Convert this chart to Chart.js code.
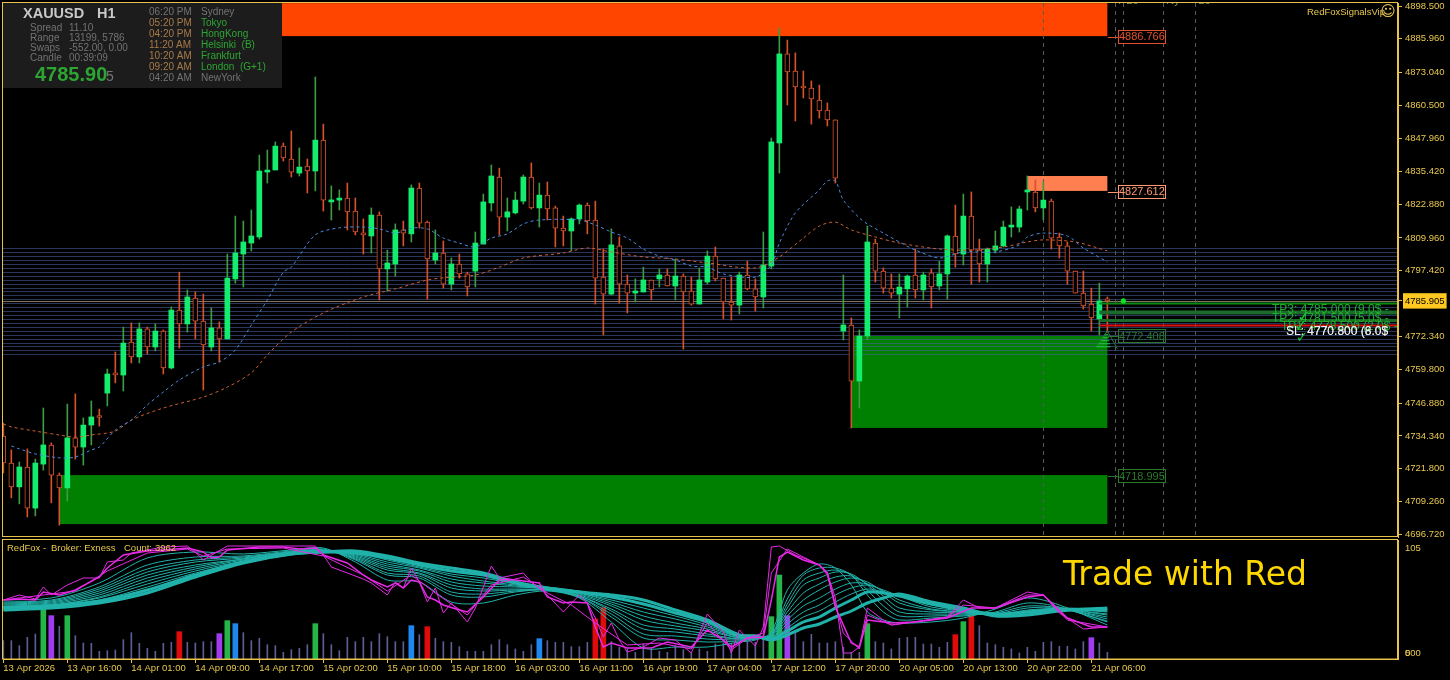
<!DOCTYPE html>
<html lang="en">
<head>
<meta charset="UTF-8">
<title>XAUUSD H1</title>
<script src="https://cdn.jsdelivr.net/npm/chart.js"></script>
<style>
    html, body { margin: 0; padding: 0; background: #000; overflow: hidden; }
    canvas { position: absolute; left: 0; }
    #mainChart { top: 0; }
    #subChart { top: 538px; }
</style>
</head>
<body>
<canvas id="mainChart" width="1450" height="538"></canvas>
<canvas id="subChart" width="1450" height="142"></canvas>

<script>
// candles, one entry per H1 bar
const opens = [
4734.3,4724.0,4714.9,4722.5,4706.8,4723.6,4730.9,4719.4,4714.5,4733.6,
4730.1,4738.5,4741.6,4750.7,4758.4,4757.6,4770.2,4764.5,4775.2,4768.3,
4774.4,4760.3,4782.4,4777.1,4787.0,4778.2,4768.3,4775.6,4771.4,4794.3,
4803.8,4808.0,4810.3,4835.1,4835.9,4845.0,4840.1,4834.7,4837.4,4835.5,
4847.3,4823.7,4824.4,4825.2,4820.2,4811.8,4810.7,4818.7,4798.1,4800.0,
4813.0,4811.5,4829.0,4816.0,4801.5,4804.2,4792.3,4800.0,4796.2,4797.3,
4807.6,4823.3,4833.2,4817.9,4819.5,4824.0,4833.2,4821.4,4826.3,4821.4,
4813.7,4812.6,4817.2,4822.5,4816.8,4795.0,4788.5,4806.9,4792.3,4788.9,
4789.3,4793.9,4794.3,4795.8,4791.6,4795.4,4789.7,4784.7,4793.1,4803.0,
4794.6,4785.5,4784.3,4795.8,4790.5,4787.4,4799.2,4846.2,4880.2,4873.7,
4867.6,4867.2,4862.6,4858.8,4855.0,4774.4,4776.7,4755.3,4772.5,4808.0,
4797.3,4790.8,4788.5,4790.5,4795.8,4790.1,4796.6,4791.6,4796.2,4810.7,
4803.8,4818.3,4805.3,4800.0,4805.3,4806.9,4814.1,4814.1,4827.5,4827.5,
4821.4,4824.0,4810.3,4806.9,4797.3,4788.9,4784.7,4779.0,4786.3];
const highs = [
4739.3,4729.0,4724.4,4729.4,4725.5,4745.0,4731.7,4720.2,4746.5,4750.4,
4741.2,4747.7,4744.6,4759.9,4766.4,4775.9,4777.5,4777.5,4775.9,4777.1,
4774.8,4783.6,4796.9,4790.1,4789.3,4788.5,4783.2,4777.9,4803.8,4818.3,
4816.4,4820.6,4841.6,4843.5,4846.6,4846.2,4850.8,4844.3,4840.1,4871.4,
4853.4,4829.8,4828.3,4830.9,4825.2,4817.2,4821.4,4819.9,4805.3,4815.3,
4816.4,4830.2,4830.9,4816.4,4813.0,4808.8,4802.3,4803.8,4796.9,4812.2,
4826.7,4837.8,4836.6,4825.2,4827.5,4834.0,4838.6,4830.9,4831.3,4822.1,
4818.3,4817.6,4822.9,4823.3,4824.0,4805.7,4813.4,4810.3,4795.8,4794.3,
4798.8,4793.9,4798.1,4798.1,4801.9,4796.2,4795.0,4798.5,4805.0,4806.5,
4794.6,4795.0,4796.9,4801.1,4794.3,4812.2,4848.1,4890.1,4885.5,4880.6,
4873.7,4869.9,4868.3,4861.5,4855.0,4795.8,4779.4,4774.8,4814.5,4809.5,
4798.5,4796.2,4796.2,4795.8,4805.7,4796.9,4798.1,4801.1,4811.1,4822.5,
4826.7,4827.5,4809.5,4806.1,4812.6,4816.4,4821.8,4822.1,4833.6,4832.1,
4831.3,4824.8,4811.8,4808.4,4797.3,4797.3,4790.8,4792.7,4787.4];
const lows = [
4720.2,4710.7,4708.4,4703.4,4703.8,4721.3,4708.8,4700.3,4709.5,4725.5,
4723.2,4730.9,4738.1,4745.8,4754.6,4751.5,4762.2,4762.2,4765.6,4766.8,
4758.0,4759.9,4767.9,4774.0,4771.4,4751.9,4766.8,4762.6,4771.4,4792.7,
4791.2,4805.0,4809.5,4830.9,4835.9,4839.3,4833.2,4833.6,4827.1,4827.9,
4820.2,4816.8,4820.6,4813.0,4811.1,4803.8,4804.2,4786.3,4789.7,4795.4,
4806.9,4808.4,4813.7,4786.6,4800.0,4790.8,4790.1,4794.6,4787.8,4791.2,
4807.6,4820.2,4811.1,4812.6,4819.1,4822.9,4821.0,4814.1,4816.8,4806.5,
4806.9,4805.0,4815.3,4811.5,4784.7,4772.9,4788.2,4785.1,4781.3,4785.5,
4789.3,4786.3,4791.2,4791.6,4786.3,4767.5,4784.3,4784.7,4792.3,4793.5,
4779.0,4778.6,4780.9,4790.1,4782.0,4783.2,4798.1,4834.7,4860.7,4854.6,
4863.4,4853.4,4855.7,4852.7,4830.9,4771.0,4737.4,4745.0,4771.0,4793.1,
4788.9,4787.0,4779.4,4783.6,4787.0,4786.3,4783.2,4790.1,4786.6,4798.8,
4799.6,4792.3,4793.1,4793.1,4804.2,4806.5,4810.3,4812.2,4820.6,4819.9,
4816.8,4805.7,4802.3,4792.3,4788.9,4782.8,4774.4,4772.9,4774.0];
const closes = [
4724.0,4714.9,4722.5,4706.8,4724.0,4730.9,4719.4,4714.5,4733.6,4730.1,
4738.5,4741.6,4741.4,4758.0,4757.6,4769.8,4764.5,4775.2,4768.3,4774.4,
4760.3,4782.4,4777.1,4787.4,4778.2,4769.1,4775.6,4771.4,4794.6,4804.2,
4808.4,4810.7,4835.5,4835.5,4845.0,4840.5,4835.1,4837.0,4835.5,4847.3,
4824.4,4824.4,4824.8,4819.9,4812.2,4811.1,4818.7,4798.1,4800.4,4813.0,
4811.8,4829.0,4815.6,4801.9,4804.2,4792.3,4800.0,4796.2,4791.2,4808.0,
4823.7,4833.6,4817.9,4819.9,4824.4,4833.2,4821.4,4826.3,4821.0,4813.7,
4812.6,4817.2,4822.5,4816.4,4794.6,4788.5,4807.3,4792.3,4788.9,4789.7,
4793.9,4790.1,4795.8,4791.6,4795.4,4789.3,4784.7,4793.9,4803.0,4794.3,
4785.5,4784.3,4795.8,4790.5,4787.4,4799.6,4846.6,4880.2,4873.3,4867.6,
4867.2,4863.0,4858.4,4855.0,4832.8,4776.7,4755.3,4772.5,4808.4,4797.3,
4790.8,4788.9,4791.2,4795.4,4790.1,4795.8,4791.2,4796.2,4810.7,4803.8,
4818.3,4805.3,4800.0,4805.7,4806.9,4814.1,4814.5,4821.0,4827.9,4821.4,
4824.4,4809.9,4806.9,4797.3,4788.9,4784.0,4779.4,4785.9,4785.9];

// moving averages
const blueMaBars = [1,2,4,7,9,11,12,14,16,18,20,22,25,27,29,31,33,35,36,39,42,45,47,49,51,53,55,57,59,61,63,65,67,72,74,76,78,80,82,84,86,88,90,94,96,97,99,102,103,104,105,107,108,110,112,114,117,120,124,127,128,130,133,135,138];
const blueMa = [4730.5,4729.4,4727.5,4726.0,4726.3,4729.0,4730.1,4736.6,4740.4,4746.2,4751.1,4755.7,4760.7,4762.6,4767.2,4776.7,4786.3,4796.9,4798.8,4811.1,4813.8,4814.1,4813.4,4811.8,4813.7,4813.4,4809.9,4808.0,4806.5,4809.9,4811.5,4815.3,4816.8,4816.8,4814.9,4812.2,4809.9,4805.7,4803.0,4801.5,4799.2,4798.8,4796.2,4795.0,4799.6,4808.0,4819.5,4828.3,4831.7,4831.7,4824.4,4817.6,4815.3,4811.8,4808.4,4805.3,4802.3,4804.6,4804.6,4807.3,4810.3,4811.8,4810.7,4806.1,4800.8];
const brownMaBars = [0,1,4,7,9,11,14,16,20,25,28,31,33,36,40,45,49,53,55,59,62,65,70,73,76,80,84,88,94,97,100,102,104,106,109,112,117,121,125,128,130,134,138];
const brownMa = [4738.9,4737.8,4736.2,4734.7,4733.9,4734.7,4736.2,4740.4,4745.0,4749.2,4753.0,4758.4,4765.3,4774.0,4781.3,4787.4,4790.5,4793.9,4794.7,4795.8,4798.8,4802.3,4804.2,4806.1,4804.6,4802.7,4801.9,4800.4,4798.5,4802.7,4809.9,4814.5,4816.0,4813.0,4810.3,4808.0,4805.7,4805.3,4806.5,4808.4,4809.2,4808.4,4805.0];

// supply and demand zones: first bar, last bar, top price, bottom price
const orangeZone = [34, 138, 4899.6, 4887.0];
const coralZone = [128, 138, 4833.6, 4827.9];
const greenZoneLow = [7, 138, 4719.4, 4700.7];
const greenZoneHigh = [106, 138, 4772.5, 4737.4];
const zoneLabels = ['4886.766', '4827.612', '4772.408', '4718.995'];
const zoneLabelPrices = [4886.766, 4827.612, 4772.408, 4718.995];

const gridPrices = [4806,4804.5,4803,4801.5,4800,4798.5,4797,4795.5,4794,4792.5,4791,4789.5,4788,4786.5,4785,4783.5,4782,4780.5,4779,4777.5,4776,4774.5,4773,4771.5,4770,4768.5,4767,4765.5];
const sessionBars = [130, 139, 140, 145, 149];
const tpLevels = [4785.0, 4781.5, 4778.5];
const stopLevel = 4776.7;
const lastPrice = 4785.905;
const priceTicks = [4898.5,4885.96,4873.04,4860.5,4847.96,4835.42,4822.88,4809.96,4797.42,4785.905,4772.34,4759.8,4746.88,4734.34,4721.8,4709.26,4696.72];

const timeLabels = ['13 Apr 2026','13 Apr 16:00','14 Apr 01:00','14 Apr 09:00','14 Apr 17:00','15 Apr 02:00','15 Apr 10:00','15 Apr 18:00','16 Apr 03:00','16 Apr 11:00','16 Apr 19:00','17 Apr 04:00','17 Apr 12:00','17 Apr 20:00','20 Apr 05:00','20 Apr 13:00','20 Apr 22:00','21 Apr 06:00'];
const timeTickBars = [0,8,16,24,32,40,48,56,64,72,80,88,96,104,112,120,128,136];

// lower window: volume
const volumes = [55,55,40,65,75,155,130,98,130,70,48,47,23,25,27,58,79,47,32,23,47,50,82,50,48,52,52,76,115,106,79,55,62,43,40,20,28,32,43,106,76,43,25,65,52,65,52,76,67,52,52,100,73,97,62,52,50,37,23,23,23,43,58,43,30,23,43,61,55,50,50,37,37,50,120,154,52,35,30,20,45,30,23,20,40,28,18,30,23,45,48,48,45,52,50,70,127,252,130,78,52,74,48,48,52,35,20,20,106,52,48,30,62,65,65,45,45,35,50,73,112,130,100,48,43,35,30,18,35,23,50,52,38,38,30,52,64,48,20];
const greenVolBars = [5,8,28,39,96,97,108,120];
const purpleVolBars = [6,27,98,136];
const blueVolBars = [29,51,67];
const redVolBars = [22,53,74,75,119,121];

// lower window: ribbon, slowest line first
const ribbonBars = [0,6,12,18,24,30,36,40,44,48,52,56,60,64,68,72,76,80,84,88,92,94,96,98,100,102,104,106,108,110,112,116,120,124,128,132,138];
const ribbon0 = [43,45,50,60,76,90,99,101,102,97,90,85,80,71,65,61,58,53,43,33,18,17,13,18,25,29,36,42,50,55,59,51,45,37,38,42,45];
const ribbon1 = [45,47,52,63,78,91,99,101,100,95,88,82,78,70,65,61,56,49,40,31,17,17,14,22,31,36,45,53,61,60,57,49,43,39,41,44,43];
const ribbon2 = [46,48,53,66,80,91,99,101,100,93,86,79,75,69,64,60,53,45,37,28,16,16,14,25,36,42,51,59,64,61,57,48,43,37,39,43,42];
const ribbon3 = [46,48,55,69,82,92,100,102,99,91,85,77,72,68,64,60,51,41,34,26,16,16,15,29,41,48,58,65,68,63,57,46,42,38,40,44,41];
const ribbon4 = [46,48,56,72,84,93,100,102,98,89,83,74,70,67,64,59,49,37,30,24,15,15,15,33,47,55,64,70,69,62,53,44,41,38,41,44,39];
const ribbon5 = [47,49,58,75,86,94,101,103,97,87,82,71,67,66,64,58,47,33,27,22,15,15,16,37,53,63,71,75,71,61,50,43,41,38,42,44,38];
const ribbon6 = [48,50,60,78,88,94,101,103,96,85,80,68,64,64,63,57,44,28,24,19,14,15,17,41,60,69,76,77,69,57,45,41,40,38,43,44,36];
const ribbon7 = [49,51,62,81,91,95,101,103,95,83,79,65,62,63,63,57,42,24,21,17,14,15,18,45,68,75,81,79,68,53,41,39,39,39,45,45,34];
const ribbon8 = [50,52,64,84,93,96,101,103,94,80,77,61,59,62,63,56,39,19,17,14,13,14,18,49,73,80,83,78,63,47,37,37,38,40,47,45,32];
const ribbon9 = [51,53,66,88,96,97,102,104,93,78,75,58,56,61,63,56,36,15,13,11,12,14,19,54,78,85,85,78,58,41,33,35,37,41,50,46,31];
const ribbon10 = [53,55,70,95,101,99,103,105,91,73,71,51,50,58,62,55,31,5,6,6,11,13,21,63,80,89,85,68,41,33,30,31,35,44,55,48,28];

// lower window: magenta lines
const magentaOuterBars = [0,2,4,5,6,8,10,12,13,15,16,18,20,23,24,25,28,35,39,40,41,45,46,48,49,50,51,52,53,54,55,56,58,59,61,62,65,66,68,70,72,73,74,75,76,77,78,80,82,84,86,88,90,91,92,93,94,95,96,97,99,100,102,103,104,105,106,107,108,110,111,114,118,120,122,124,128,130,132,135,138];
const magentaOuter = [53,58,54,66,58,68,75,75,91,93,100,103,106,107,101,93,107,107,107,98,86,74,70,58,71,65,85,71,51,65,40,50,31,45,87,75,80,71,58,41,58,50,35,16,30,13,1,6,15,13,0,39,21,0,23,15,7,26,106,107,98,95,88,80,55,0,0,6,45,33,28,31,36,53,45,45,61,58,40,24,26];
const magentaInnerBars = [0,2,4,5,7,9,12,13,15,18,20,23,25,26,27,28,32,35,37,39,40,43,45,46,48,49,50,51,52,53,54,55,57,58,60,62,63,65,67,68,70,71,73,74,75,76,78,81,83,86,88,90,91,93,95,96,97,98,100,102,103,104,106,107,108,111,114,118,121,124,128,130,133,136,138];
const magentaInner = [53,54,53,61,58,63,76,85,98,102,103,105,101,95,96,103,106,106,104,105,98,90,78,73,66,70,65,73,71,56,53,48,43,41,56,73,74,72,70,56,50,51,50,26,6,10,5,5,11,6,23,13,6,15,16,53,96,101,93,88,80,46,10,6,33,30,31,35,45,45,56,58,35,26,26];
const magentaMidBars = [0,5,9,13,18,23,25,28,35,40,45,48,51,54,58,61,65,68,71,74,78,82,86,88,91,93,95,96,98,102,103,105,107,108,111,118,120,124,128,130,133,138];
const magentaMid = [53,58,62,82,100,104,97,104,105,97,78,62,78,60,38,68,76,60,48,30,8,10,4,30,3,15,20,80,104,88,78,20,4,38,28,36,48,45,58,58,33,26];

const gold = '#e8c24a';
const labelGold = '#e8c84e';

function pairs(xs, ys) {
    return xs.map((x, i) => ({ x: x, y: ys[i] }));
}

function text(ctx, str, x, y, font, color, align) {
    ctx.font = font;
    ctx.fillStyle = color;
    ctx.textAlign = align || 'left';
    ctx.textBaseline = 'middle';
    ctx.fillText(str, x, y);
}

function drawZone(ctx, sx, sy, zone, color) {
    const left = sx.getPixelForValue(zone[0]) - 0.3;
    const right = sx.getPixelForValue(zone[1]);
    const top = sy.getPixelForValue(zone[2]);
    const bottom = sy.getPixelForValue(zone[3]);
    ctx.fillStyle = color;
    ctx.fillRect(left, top, right - left, bottom - top);
}

function hLine(ctx, left, right, y, color, width) {
    ctx.strokeStyle = color;
    ctx.lineWidth = width;
    ctx.beginPath();
    ctx.moveTo(left, Math.round(y) + 0.5);
    ctx.lineTo(right, Math.round(y) + 0.5);
    ctx.stroke();
}

// labels next to the first and last tick must not push the plot area in
function fixAxisWidth(s) {
    s.width = 52;
    s.paddingTop = 0;
    s.paddingBottom = 0;
}

// zones and level lines sit behind the candles
const backdropPlugin = {
    id: 'backdrop',
    beforeDatasetsDraw(chart) {
        const ctx = chart.ctx, sx = chart.scales.x, sy = chart.scales.y, area = chart.chartArea;
        ctx.save();
        drawZone(ctx, sx, sy, orangeZone, '#ff4500');
        drawZone(ctx, sx, sy, coralZone, '#ff7f50');
        drawZone(ctx, sx, sy, greenZoneLow, '#008000');
        drawZone(ctx, sx, sy, greenZoneHigh, '#008000');
        gridPrices.forEach(p => hLine(ctx, area.left, area.right, sy.getPixelForValue(p), 'rgba(72,98,165,0.55)', 1));
        hLine(ctx, area.left, area.right, sy.getPixelForValue(lastPrice), '#85745c', 1);
        ctx.setLineDash([4, 4]);
        ctx.strokeStyle = '#5a5a5a';
        ctx.lineWidth = 1;
        sessionBars.forEach(b => {
            const x = Math.round(sx.getPixelForValue(b)) + 0.5;
            ctx.beginPath();
            ctx.moveTo(x, area.top);
            ctx.lineTo(x, area.bottom);
            ctx.stroke();
        });
        ctx.restore();
    }
};

// everything written over the candles: panel, labels, targets
const overlayPlugin = {
    id: 'overlay',
    afterDatasetsDraw(chart) {
        const ctx = chart.ctx, sx = chart.scales.x, sy = chart.scales.y, area = chart.chartArea;
        const sans = '"Liberation Sans", Arial, sans-serif';
        ctx.save();

        // target and stop lines
        const lineLeft = sx.getPixelForValue(137);
        hLine(ctx, lineLeft, area.right, sy.getPixelForValue(tpLevels[0]), '#0a8a14', 2);
        hLine(ctx, lineLeft, area.right, sy.getPixelForValue(tpLevels[1]), '#1c6a2c', 4);
        hLine(ctx, lineLeft, area.right, sy.getPixelForValue(tpLevels[2]), '#1c6a2c', 3);
        hLine(ctx, lineLeft, area.right, sy.getPixelForValue(stopLevel), '#e01010', 2);

        ctx.fillStyle = '#10e020';
        ctx.beginPath();
        ctx.arc(sx.getPixelForValue(140), sy.getPixelForValue(lastPrice), 2.6, 0, Math.PI * 2);
        ctx.fill();

        // buy arrow
        const ax = sx.getPixelForValue(138), ay = sy.getPixelForValue(4774.5);
        ctx.strokeStyle = '#22d044';
        ctx.lineWidth = 1;
        for (let i = 0; i < 6; i++) {
            const w = 1 + i * 2;
            ctx.beginPath();
            ctx.moveTo(ax - w, ay + 1 + i * 3);
            ctx.lineTo(ax + w * 0.3, ay + 1 + i * 3);
            ctx.stroke();
        }
        ctx.strokeStyle = '#1a8a30';
        ctx.beginPath();
        ctx.moveTo(ax - 11, ay + 16);
        ctx.lineTo(ax, ay);
        ctx.lineTo(ax + 10, ay + 18);
        ctx.stroke();

        // zone price boxes
        const boxColors = ['#e0502a', '#ff9a70', '#2b7a2b', '#2b7a2b'];
        zoneLabels.forEach((label, i) => {
            const y = sy.getPixelForValue(zoneLabelPrices[i]);
            const left = sx.getPixelForValue(139) + 2.5;
            ctx.strokeStyle = boxColors[i];
            ctx.lineWidth = 1;
            ctx.strokeRect(Math.round(left) + 0.5, Math.round(y) - 6.5, 47, 13);
            hLine(ctx, left - 10, left, y, boxColors[i], 1);
            text(ctx, label, left + 24, y + 0.5, '11px ' + sans, boxColors[i], 'center');
        });

        // target text, overlapping in the source as well
        const tpFont = '12px ' + sans;
        text(ctx, 'TP3: 4785.000 (9.0$ -', 1272, 310, tpFont, '#1fb02a');
        text(ctx, 'TP2: 4781.500 (5.0$ -', 1272, 319, tpFont, '#1fb02a');
        text(ctx, 'TP1: 4778.500 (2.0$ -', 1281, 327, tpFont, '#1fb02a');
        text(ctx, '\u2713', 1304, 318, 'bold 16px "DejaVu Sans"', '#1fc03a', 'center');
        text(ctx, '\u2713', 1301, 327, 'bold 16px "DejaVu Sans"', '#1fc03a', 'center');
        text(ctx, '\u2713', 1302, 338, 'bold 15px "DejaVu Sans"', '#1fc03a', 'center');
        text(ctx, 'SL: 4770.800 (8.0$', 1286, 332, tpFont, '#f0f0f0');
        text(ctx, 'SL: 4770.500 (6.0$', 1286, 332, tpFont, 'rgba(240,240,240,0.7)');

        // session names, cut by the top edge
        ctx.save();
        ctx.beginPath();
        ctx.rect(area.left, area.top, area.right - area.left, 20);
        ctx.clip();
        ['F', 'Lo', 'Ny', 'Lc'].forEach((name, i) => {
            text(ctx, name, sx.getPixelForValue(sessionBars[i + 1]) + 3, 1, '11px ' + sans, '#8f8f3a');
        });
        ctx.restore();

        text(ctx, 'RedFoxSignalsVip', 1307, 12, '9.5px ' + sans, labelGold);
        text(ctx, '\u263A', 1388, 12, '15px "DejaVu Sans"', labelGold, 'center');

        // info panel
        ctx.fillStyle = '#1c1c1c';
        ctx.fillRect(3, 3, 279, 85);
        text(ctx, 'XAUUSD', 23, 14, 'bold 14.5px ' + sans, '#c8c8c8');
        text(ctx, 'H1', 97, 14, 'bold 14.5px ' + sans, '#c8c8c8');
        const rowFont = '10px ' + sans, dim = '#737373';
        [['Spread', '11.10'], ['Range', '13199, 5786'], ['Swaps', '-552.00, 0.00'], ['Candle', '00:39:09']].forEach((row, i) => {
            text(ctx, row[0], 30, 28 + i * 10, rowFont, dim);
            text(ctx, row[1], 69, 28 + i * 10, rowFont, dim);
        });
        text(ctx, '4785.90', 35, 75, 'bold 20px ' + sans, '#2ca532');
        text(ctx, '5', 106, 77, '14px ' + sans, dim);
        const times = ['06:20 PM', '05:20 PM', '04:20 PM', '11:20 AM', '10:20 AM', '09:20 AM', '04:20 AM'];
        const cities = ['Sydney', 'Tokyo', 'HongKong', 'Helsinki  (B)', 'Frankfurt', 'London  (G+1)', 'NewYork'];
        times.forEach((t, i) => {
            const open = i > 0 && i < 6;
            text(ctx, t, 149, 12 + i * 11, rowFont, open ? '#a87a4a' : dim);
            text(ctx, cities[i], 201, 12 + i * 11, rowFont, open ? '#2ca532' : dim);
        });

        // frame
        ctx.strokeStyle = gold;
        ctx.lineWidth = 1;
        ctx.strokeRect(2.5, 2.5, 1395, 534);
        ctx.restore();
    }
};

const subOverlayPlugin = {
    id: 'subOverlay',
    afterDatasetsDraw(chart) {
        const ctx = chart.ctx, area = chart.chartArea;
        const sans = '"Liberation Sans", Arial, sans-serif';
        const headFont = '9.5px ' + sans;
        ctx.save();
        text(ctx, 'RedFox -', 7, 10, headFont, labelGold);
        text(ctx, 'Broker: Exness', 51, 10, headFont, labelGold);
        text(ctx, 'Count:', 124, 10, headFont, labelGold);
        text(ctx, '3962', 155, 10, headFont, labelGold);
        text(ctx, 'Trade with Red', 1063, 38, '33px "DejaVu Sans"', '#ffd700');
        text(ctx, '500', 1405, chart.scales.y.getPixelForValue(0), '9.5px ' + sans, labelGold);
        ctx.strokeStyle = gold;
        ctx.lineWidth = 1;
        ctx.strokeRect(2.5, 1.5, 1395, area.bottom - 1.5);
        ctx.restore();
    }
};

// wick and body data for the upper window
const bars = opens.map((o, i) => ({ x: i, open: o, high: highs[i], low: lows[i], close: closes[i] }));
const upBars = bars.filter(b => b.close >= b.open);
const downBars = bars.filter(b => b.close < b.open);
const wicks = list => list.map(b => ({ x: b.x, y: [b.low, b.high] }));
const bodies = list => list.map(b => ({ x: b.x, y: [Math.min(b.open, b.close), Math.max(b.open, b.close)] }));

const upWick = '#3f9a44';
const upBody = '#14ec6e';
const downColor = '#d5522c';
const xMin = -0.04, xMax = 174.33;

new Chart(document.getElementById('mainChart').getContext('2d'), {
    type: 'bar',
    plugins: [backdropPlugin, overlayPlugin],
    data: {
        datasets: [
            { type: 'line', data: pairs(blueMaBars, blueMa), borderColor: '#4a8ae0', borderWidth: 1, borderDash: [3, 3], pointRadius: 0, tension: 0.3, order: 1 },
            { type: 'line', data: pairs(brownMaBars, brownMa), borderColor: '#d0602c', borderWidth: 1, borderDash: [3, 3], pointRadius: 0, tension: 0.3, order: 1 },
            { data: bodies(upBars), backgroundColor: upBody, barThickness: 5, minBarLength: 2, grouped: false, order: 2 },
            { data: bodies(downBars), backgroundColor: '#000', borderColor: downColor, borderWidth: 1, borderSkipped: false, barThickness: 5, minBarLength: 2, grouped: false, order: 2 },
            { data: wicks(upBars), backgroundColor: upWick, barThickness: 1, grouped: false, order: 3 },
            { data: wicks(downBars), backgroundColor: downColor, barThickness: 1, grouped: false, order: 3 }
        ]
    },
    options: {
        responsive: false,
        devicePixelRatio: 1,
        animation: false,
        layout: { padding: { left: 3, top: 3, right: 0, bottom: 1 } },
        plugins: { legend: { display: false }, tooltip: { enabled: false } },
        scales: {
            x: { type: 'linear', offset: false, min: xMin, max: xMax, display: false },
            y: {
                position: 'right',
                min: 4695.76,
                max: 4899.65,
                afterFit: fixAxisWidth,
                afterBuildTicks: s => { s.ticks = priceTicks.map(v => ({ value: v })); },
                border: { color: gold },
                grid: { drawOnChartArea: false, color: gold, tickLength: 4 },
                ticks: {
                    autoSkip: false,
                    padding: 3,
                    font: { family: '"Liberation Sans", Arial', size: 9.5 },
                    color: ctx => ctx.tick.value === lastPrice ? '#000' : labelGold,
                    showLabelBackdrop: ctx => ctx.tick.value === lastPrice,
                    backdropColor: '#ffc820',
                    backdropPadding: { x: 2, y: 2 },
                    callback: v => v.toFixed(3)
                }
            }
        }
    }
});

// volume bars, thick ones carry the signal colours
const volumeData = list => list.map(k => ({ x: k, y: volumes[k] }));
const thickBars = [].concat(greenVolBars, purpleVolBars, blueVolBars, redVolBars);
const thinBars = volumes.map((v, k) => k).filter(k => !thickBars.includes(k));
const volumeSet = (list, color, thickness) => ({ data: volumeData(list), backgroundColor: color, barThickness: thickness, grouped: false, yAxisID: 'yVol', order: 5 });
const ribbonSet = (values, width) => ({ type: 'line', data: pairs(ribbonBars, values), borderColor: '#20b2aa', borderWidth: width, pointRadius: 0, tension: 0.3, order: 3 });
const magentaSet = (xs, ys, width) => ({ type: 'line', data: pairs(xs, ys), borderColor: '#e62ae6', borderWidth: width, pointRadius: 0, tension: 0, order: 2 });

new Chart(document.getElementById('subChart').getContext('2d'), {
    type: 'bar',
    plugins: [subOverlayPlugin],
    data: {
        datasets: [
            volumeSet(thinBars, '#5e5e94', 1),
            volumeSet(greenVolBars, '#26b548', 5),
            volumeSet(purpleVolBars, '#a03cf0', 5),
            volumeSet(blueVolBars, '#1e88f0', 5),
            volumeSet(redVolBars, '#e00c0c', 5),
            ribbonSet(ribbon0, 3),
            ribbonSet(ribbon1, 3),
            ribbonSet(ribbon2, 1),
            ribbonSet(ribbon3, 1),
            ribbonSet(ribbon4, 1),
            ribbonSet(ribbon5, 1),
            ribbonSet(ribbon6, 1),
            ribbonSet(ribbon7, 1),
            ribbonSet(ribbon8, 1),
            ribbonSet(ribbon9, 1),
            ribbonSet(ribbon10, 1),
            magentaSet(magentaOuterBars, magentaOuter, 1),
            magentaSet(magentaMidBars, magentaMid, 1),
            magentaSet(magentaInnerBars, magentaInner, 1.5)
        ]
    },
    options: {
        responsive: false,
        devicePixelRatio: 1,
        animation: false,
        layout: { padding: { left: 3, top: 2, right: 0, bottom: 0 } },
        plugins: { legend: { display: false }, tooltip: { enabled: false } },
        scales: {
            x: {
                type: 'linear',
                offset: false,
                min: xMin,
                max: xMax,
                afterFit: s => { s.height = 21; s.paddingLeft = 0; s.paddingRight = 0; },
                afterBuildTicks: s => { s.ticks = timeTickBars.map(v => ({ value: v })); },
                border: { color: gold },
                grid: { drawOnChartArea: false, offset: false, color: gold, tickLength: 4 },
                ticks: {
                    autoSkip: false,
                    maxRotation: 0,
                    align: 'start',
                    padding: 0,
                    font: { family: '"Liberation Sans", Arial', size: 9.5 },
                    color: labelGold,
                    callback: (v, i) => timeLabels[i]
                }
            },
            y: {
                position: 'right',
                min: -6,
                max: 113,
                afterFit: fixAxisWidth,
                afterBuildTicks: s => { s.ticks = [{ value: 105 }, { value: 0 }]; },
                border: { color: gold },
                grid: { drawOnChartArea: false, drawTicks: false, tickLength: 0 },
                ticks: {
                    autoSkip: false,
                    padding: 7,
                    font: { family: '"Liberation Sans", Arial', size: 9.5 },
                    color: labelGold,
                    callback: v => String(v)
                }
            },
            yVol: { display: false, min: 0, max: 357 }
        }
    }
});
</script>
</body>
</html>
